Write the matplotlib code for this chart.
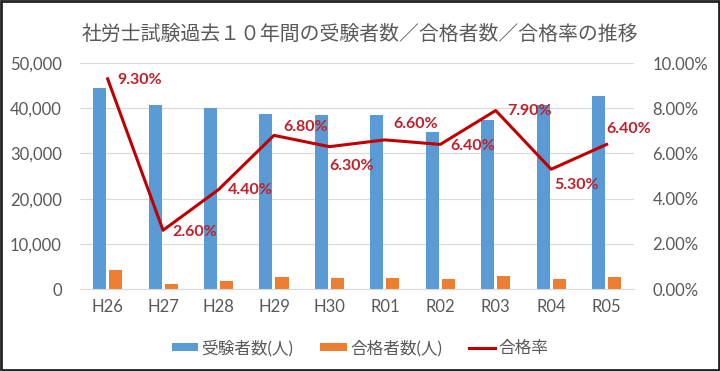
import matplotlib
matplotlib.use("Agg")
import matplotlib.pyplot as plt
import matplotlib.patches as patches
from matplotlib.ticker import FuncFormatter, MultipleLocator
import numpy as np

plt.rcParams['font.family'] = ['Lato', 'Noto Sans CJK JP', 'DejaVu Sans']

# 年度と実績
years = ["H26", "H27", "H28", "H29", "H30", "R01", "R02", "R03", "R04", "R05"]
examinees = [44546, 40712, 39972, 38685, 38427, 38428, 34845, 37306, 40633, 42741]
passers = [4156, 1051, 1770, 2613, 2413, 2525, 2237, 2937, 2134, 2720]
pass_rate = [9.3, 2.6, 4.4, 6.8, 6.3, 6.6, 6.4, 7.9, 5.3, 6.4]

# ラベル位置 (point offset)
label_offsets = [(7, -1), (7, -1), (7, 0), (6.5, 6), (0, -14),
                 (6, 11.5), (7, -1.5), (8, 0), (2, -11), (0, 11)]

blue = "#5B9BD5"
orange = "#ED7D31"
red = "#C00000"
label_red = "#C0202A"
gray_text = "#595959"
grid_gray = "#D9D9D9"

fig = plt.figure(figsize=(7.2, 3.71), dpi=100)
ax = fig.add_axes([0.111, 0.221, 0.770, 0.609])
ax2 = ax.twinx()

x = np.arange(len(years))
w = 0.235
ax.bar(x - 0.145, examinees, w, color=blue, label="受験者数(人)", zorder=2)
ax.bar(x + 0.145, passers, w, color=orange, label="合格者数(人)", zorder=2)

rate = np.array(pass_rate) / 100
ax2.plot(x, rate, color=red, lw=2.2, label="合格率", zorder=3)
for xi, r, (dx, dy) in zip(x, rate, label_offsets):
    ax2.annotate(f"{r * 100:.2f}%", (xi, r), xytext=(dx, dy),
                 textcoords="offset points", ha="left", va="center",
                 fontsize=11.5, fontweight="bold", color=label_red, zorder=4)

ax.set_xlim(-0.5, len(years) - 0.5)
ax.set_ylim(0, 50000)
ax2.set_ylim(0, 0.10)
ax.yaxis.set_major_locator(MultipleLocator(10000))
ax2.yaxis.set_major_locator(MultipleLocator(0.02))
ax.yaxis.set_major_formatter(FuncFormatter(lambda v, p: f"{int(v):,}"))
ax2.yaxis.set_major_formatter(FuncFormatter(lambda v, p: f"{v * 100:.2f}%"))
ax.set_xticks(x)
ax.set_xticklabels(years)

ax.grid(axis="y", color=grid_gray, lw=0.8, zorder=0)
ax.set_axisbelow(True)
for a in (ax, ax2):
    for s in a.spines.values():
        s.set_visible(False)
    a.tick_params(length=0, labelsize=12, labelcolor=gray_text)
ax.spines["bottom"].set_visible(True)
ax.spines["bottom"].set_color(grid_gray)
ax.tick_params(axis="y", pad=13)
ax2.tick_params(axis="y", pad=13)
ax.tick_params(axis="x", pad=7)

fig.text(0.5, 0.91, "社労士試験過去１０年間の受験者数／合格者数／合格率の推移",
         ha="center", va="center", fontsize=14.3, color=gray_text)

h1, l1 = ax.get_legend_handles_labels()
h2, l2 = ax2.get_legend_handles_labels()
fig.legend(h1 + h2, l1 + l2, loc="center", bbox_to_anchor=(0.5, 0.062),
           ncol=3, frameon=False, fontsize=12, handlelength=1.6,
           handleheight=0.35, handletextpad=0.2, columnspacing=1.6,
           labelcolor=gray_text)

fig.patches.append(patches.Rectangle((0.002, 0.003), 0.996, 0.994,
                                     transform=fig.transFigure, fill=False,
                                     edgecolor="#222222", lw=2))

fig.savefig("out.png", dpi=100)
